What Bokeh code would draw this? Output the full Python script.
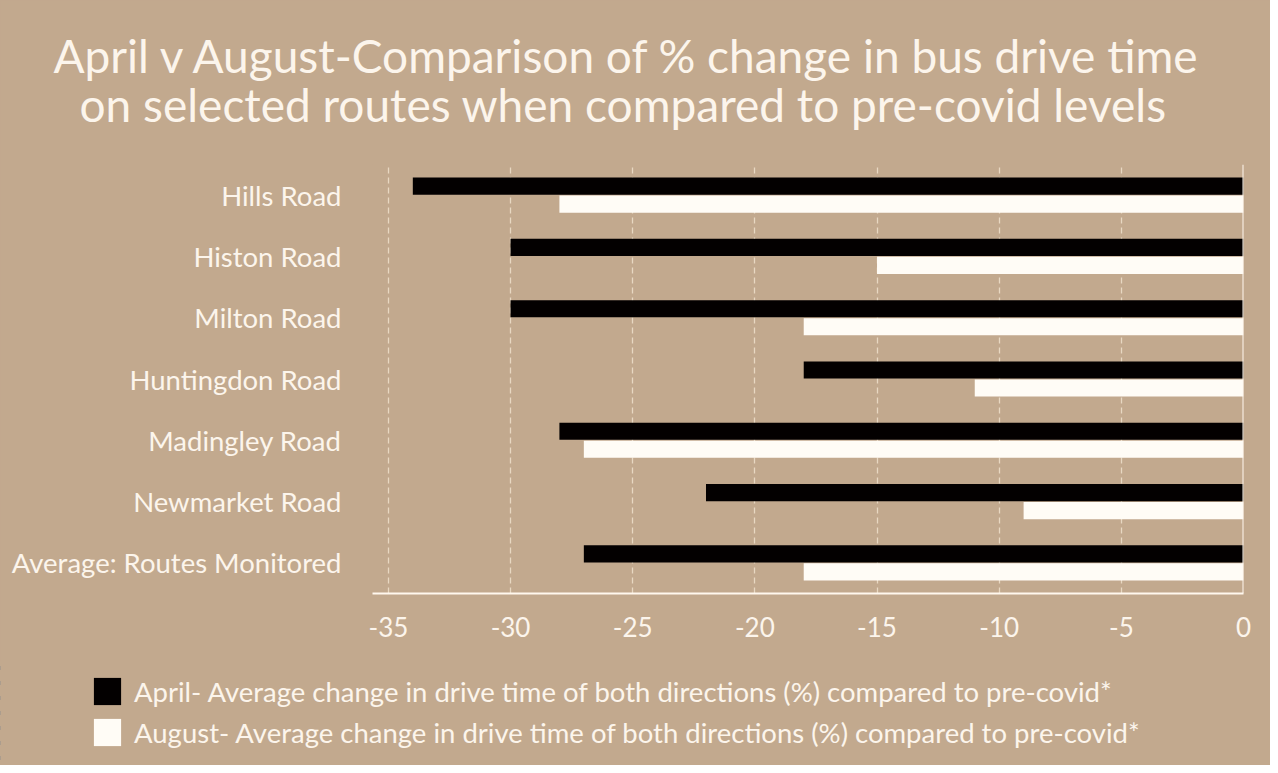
from bokeh.plotting import figure
from bokeh.layouts import column
from bokeh.models import (Range1d, Span, Legend, LegendItem, Title, FixedTicker,
                          ColumnDataSource, NumeralTickFormatter)
from bokeh.transform import dodge
from bokeh.embed import file_html
from bokeh.resources import INLINE

routes = ["Hills Road", "Histon Road", "Milton Road", "Huntingdon Road",
          "Madingley Road", "Newmarket Road", "Average: Routes Monitored"]
april = [-34, -30, -30, -18, -28, -22, -27]
august = [-28, -15, -18, -11, -27, -9, -18]
x_ticks = [-35, -30, -25, -20, -15, -10, -5, 0]
title_lines = ["April v August-Comparison of % change in bus drive time",
               "on selected routes when compared to pre-covid levels"]
legend_labels = ["April- Average change in drive time of both directions (%) compared to pre-covid*",
                 "August- Average change in drive time of both directions (%) compared to pre-covid*"]

BG = "#C2A98E"
TXT = "#FCF5EC"
FONT = "Lato"
APR_COL = "#030000"
AUG_COL = "#FFFCF6"

src = ColumnDataSource(dict(route=routes, april=april, august=august))

# ---- main chart ----
p = figure(width=1270, height=660, y_range=list(reversed(routes)),
           x_range=Range1d(-35.65, 0), output_backend="svg", toolbar_location=None,
           min_border_left=372, min_border_right=27, min_border_top=164,
           min_border_bottom=67)
p.frame_align = False
p.background_fill_color = BG
p.border_fill_color = BG
p.outline_line_color = None

p.hbar(y=dodge("route", 0.147, range=p.y_range), left="april", right=0, height=0.28,
       source=src, fill_color=APR_COL, line_color=None)
p.hbar(y=dodge("route", -0.147, range=p.y_range), left="august", right=0, height=0.28,
       source=src, fill_color=AUG_COL, line_color=None)

p.add_layout(Span(location=0, dimension="height", line_color="#FFF8EE", line_width=2))

p.xaxis.ticker = FixedTicker(ticks=x_ticks)
p.xaxis.formatter = NumeralTickFormatter(format="0")
p.xaxis.axis_line_color = "#FFF8EE"
p.xaxis.axis_line_width = 2
p.xaxis.major_tick_line_color = None
p.xaxis.minor_tick_line_color = None
p.xaxis.major_label_text_font = FONT
p.xaxis.major_label_text_font_size = "26px"
p.xaxis.major_label_text_color = TXT
p.xaxis.major_label_standoff = 17

p.yaxis.axis_line_color = None
p.yaxis.major_tick_line_color = None
p.yaxis.minor_tick_line_color = None
p.yaxis.major_label_text_font = FONT
p.yaxis.major_label_text_font_size = "27.5px"
p.yaxis.major_label_text_color = TXT
p.yaxis.major_label_standoff = 25

p.ygrid.grid_line_color = None
p.xgrid.grid_line_color = "#E8D8C2"
p.xgrid.grid_line_dash = "6 4"
p.xgrid.grid_line_width = 1.3

p.title.visible = False
# spacer between frame and second title line
p.add_layout(Title(text=" ", text_font=FONT, text_font_size="10px", standoff=27,
                   text_color=BG), "above")
p.add_layout(Title(text=title_lines[1], align="left", text_font=FONT, text_font_size="46px",
                   text_color=TXT, text_font_style="normal", standoff=-16, offset=-293), "above")
p.add_layout(Title(text=title_lines[0], align="left", text_font=FONT, text_font_size="46px",
                   text_color=TXT, text_font_style="normal", standoff=0, offset=-319), "above")

# ---- legend strip ----
p2 = figure(width=1270, height=105, y_range=list(reversed(routes)),
            x_range=Range1d(1, 2), output_backend="svg", toolbar_location=None,
            x_axis_location=None, y_axis_location=None, min_border=0)
p2.frame_align = False
p2.background_fill_color = BG
p2.border_fill_color = BG
p2.outline_line_color = None
p2.grid.grid_line_color = None
p2.title.visible = False
l1 = p2.hbar(y="route", left="april", right=0, height=0.28, source=src,
             fill_color=APR_COL, line_color=None)
l2 = p2.hbar(y="route", left="august", right=0, height=0.28, source=src,
             fill_color=AUG_COL, line_color=None)

legend = Legend(items=[LegendItem(label=legend_labels[0], renderers=[l1]),
                       LegendItem(label=legend_labels[1], renderers=[l2])],
                location=(90, 16))
legend.background_fill_alpha = 0
legend.border_line_color = None
legend.padding = 0
legend.margin = 0
legend.spacing = 7
legend.glyph_width = 34
legend.glyph_height = 34
legend.label_height = 34
legend.label_standoff = 10
legend.label_text_font = FONT
legend.label_text_font_size = "27.5px"
legend.label_text_color = TXT
legend.label_text_baseline = "middle"
p2.add_layout(legend, "center")

layout = column(p, p2, spacing=0, styles={"background-color": BG})
open("out.html", "w").write(file_html(layout, INLINE))
